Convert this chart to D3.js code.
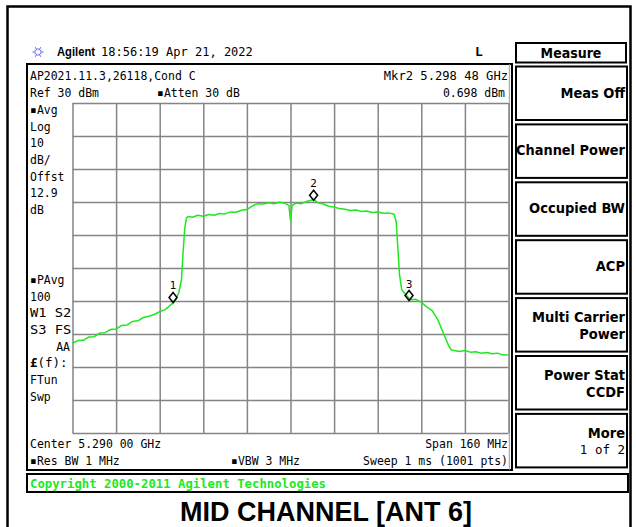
<!DOCTYPE html>
<html>
<head>
<meta charset="utf-8">
<script src="https://cdn.jsdelivr.net/npm/d3@7"></script>
<style>
  body { margin: 0; background: #fff; }
  svg { display: block; }
</style>
</head>
<body>
<div id="grafico"></div>
<script>
// trace: frequency (MHz) and level (dBm)
const freqMHz = [
  5210, 5212, 5214, 5216, 5218, 5220, 5222, 5224, 5226, 5228,
  5230, 5232, 5234, 5236, 5238, 5240, 5242, 5244, 5246, 5247,
  5248, 5249, 5250, 5250.6, 5251.2, 5251.8, 5252.4, 5254, 5256, 5258,
  5260, 5262, 5264, 5266, 5268, 5270, 5272, 5274, 5276, 5278,
  5280, 5282, 5284, 5286, 5288, 5289.4, 5290, 5290.6, 5292, 5294,
  5296, 5298.5, 5300, 5302, 5304, 5306, 5308, 5310, 5312, 5314,
  5316, 5318, 5320, 5322, 5324, 5326, 5328, 5328.8, 5329.4, 5330,
  5330.8, 5332, 5333.2, 5334, 5336, 5338, 5340, 5342, 5344, 5346,
  5348, 5349, 5350, 5352, 5354, 5356, 5358, 5360, 5362, 5364,
  5366, 5368, 5370
];
const levelDbm = [
  -42.8, -42.0, -41.9, -40.9, -40.8, -39.7, -39.6, -38.6, -38.5, -37.4,
  -37.3, -36.2, -36.0, -35.0, -34.6, -34.1, -33.2, -32.6, -31.2, -30.6,
  -29.4, -27.5, -23.5, -15.0, -8.0, -4.8, -4.4, -4.6, -4.0, -4.3,
  -3.8, -4.0, -3.5, -3.6, -3.0, -3.1, -2.5, -2.3, -1.2, -0.5,
  -0.6, -0.2, -0.5, -0.1, -0.4, -1.0, -5.5, -1.0, -0.3, -0.5,
  0.2, 0.7, -0.2, -0.6, -1.3, -1.5, -2.0, -2.2, -2.6, -2.4,
  -2.9, -2.7, -3.2, -3.0, -3.4, -3.3, -3.7, -6.0, -14.0, -22.0,
  -26.5, -27.8, -28.9, -29.6, -29.5, -30.4, -31.8, -32.9, -35.6, -39.5,
  -43.5, -44.8, -45.0, -45.3, -45.0, -45.5, -45.4, -45.8, -45.6, -46.0,
  -45.8, -46.4, -46.3
];
const markerNames = ['1', '2', '3'];
const markerFreq = [5246.9, 5298.48, 5333.5];
const markerLevel = [-30.3, 0.698, -29.7];

const freqTicks = d3.range(5210, 5371, 16);   // 10 divisions, span 160 MHz
const levelTicks = d3.range(-70, 31, 10);     // ref 30 dBm, 10 dB/div

const headerText = ['Agilent', '18:56:19  Apr 21, 2022', 'L'];
const infoTopLeft = ['AP2021.11.3,26118,Cond C', 'Ref 30 dBm'];
const infoAtten = '▪Atten 30 dB';
const infoTopRight = ['Mkr2  5.298 48 GHz', '0.698 dBm'];
const sideUpper = ['▪Avg', 'Log', '10', 'dB/', 'Offst', '12.9', 'dB'];
const sideLower = ['▪PAvg', '100', 'W1  S2', 'S3  FS', 'AA', '£(f):', 'FTun', 'Swp'];
const footLine1 = ['Center 5.290 00 GHz', 'Span 160 MHz'];
const footLine2 = ['▪Res BW 1 MHz', '▪VBW 3 MHz', 'Sweep 1 ms (1001 pts)'];
const menuTitle = 'Measure';
const softkeys = [['Meas Off'], ['Channel Power'], ['Occupied BW'], ['ACP'],
  ['Multi Carrier', 'Power'], ['Power Stat', 'CCDF'], ['More', '1 of 2']];
const copyright = 'Copyright 2000-2011 Agilent Technologies';
const title = 'MID CHANNEL [ANT 6]';

const W = 636, H = 527;
const plot = { left: 72.5, right: 508.5, top: 103, bottom: 433 };
const mono = '"DejaVu Sans Mono", monospace';
const keyFont = '"DejaVu Sans Condensed", "DejaVu Sans", sans-serif';
const charW = 6.9;
const green = '#1ee81e';

const svg = d3.select('#grafico').append('svg')
  .attr('width', W).attr('height', H)
  .attr('viewBox', `0 0 ${W} ${H}`);

function txt(s, x, y, o = {}) {
  const t = svg.append('text')
    .attr('x', x).attr('y', y)
    .attr('font-family', o.family || mono)
    .attr('font-size', o.size || 12.5)
    .attr('font-weight', o.bold ? 'bold' : 'normal')
    .attr('text-anchor', o.anchor || 'start')
    .attr('fill', o.fill || '#000')
    .text(s);
  if (o.fit) {
    t.attr('textLength', s.length * charW).attr('lengthAdjust', 'spacingAndGlyphs');
  }
  if (o.max && t.node().getComputedTextLength() > o.max) {
    t.attr('textLength', o.max).attr('lengthAdjust', 'spacingAndGlyphs');
  }
  return t;
}

// outer frame
svg.append('path')
  .attr('d', `M7.5,${H} V6.5 H630.5 V${H}`)
  .attr('fill', 'none').attr('stroke', '#000').attr('stroke-width', 2.5);

// header with the agilent burst
const star = svg.append('g').attr('transform', 'translate(38,52)');
d3.range(0, 360, 30).forEach(a => {
  const r = a * Math.PI / 180, r0 = a % 60 === 0 ? 2 : 2.5, r1 = a % 60 === 0 ? 5.5 : 4;
  star.append('line')
    .attr('x1', r0 * Math.cos(r)).attr('y1', r0 * Math.sin(r))
    .attr('x2', r1 * Math.cos(r)).attr('y2', r1 * Math.sin(r))
    .attr('stroke', '#5a5af0').attr('stroke-width', 1);
});
txt(headerText[0], 57, 56, { family: '"Liberation Sans", Arial, sans-serif', size: 12.5, bold: true, max: 38 });
txt(headerText[1], 101, 56, { fit: true });
txt(headerText[2], 479, 56, { bold: true, size: 13, anchor: 'middle' });

// main display box
svg.append('rect')
  .attr('x', 27).attr('y', 64).attr('width', 485).attr('height', 406)
  .attr('fill', 'none').attr('stroke', '#000').attr('stroke-width', 2);
svg.append('line')
  .attr('x1', 509.3).attr('x2', 509.3).attr('y1', 64).attr('y2', 470)
  .attr('stroke', '#999').attr('stroke-width', 1);

txt(infoTopLeft[0], 30, 80, { fit: true });
txt(infoTopLeft[1], 30, 97, { fit: true });
txt(infoAtten, 157, 97, { fit: true });
txt(infoTopRight[0], 508, 80, { fit: true, anchor: 'end' });
txt(infoTopRight[1], 505, 97, { fit: true, anchor: 'end' });

sideUpper.forEach((s, i) => txt(s, 30, 114 + i * 16.67, { fit: true }));
sideLower.forEach((s, i) => {
  if (s === 'AA') txt(s, 70, 284 + i * 16.67, { fit: true, anchor: 'end' });
  else if (s.startsWith('£')) {
    const t = txt('', 30, 284 + i * 16.67);
    t.append('tspan').attr('font-weight', 'bold').text('£');
    t.append('tspan').text(s.slice(1));
  } else txt(s, 30, 284 + i * 16.67, { fit: true });
});

txt(footLine1[0], 30, 448, { fit: true });
txt(footLine1[1], 508, 448, { fit: true, anchor: 'end' });
txt(footLine2[0], 30, 465, { fit: true });
txt(footLine2[1], 231, 465, { fit: true });
txt(footLine2[2], 508, 465, { fit: true, anchor: 'end' });

// scales + graticule
const x = d3.scaleLinear().domain([5210, 5370]).range([plot.left, plot.right]);
const y = d3.scaleLinear().domain([-70, 30]).range([plot.bottom, plot.top]);

svg.append('g')
  .attr('transform', `translate(0,${plot.bottom})`)
  .call(d3.axisBottom(x).tickValues(freqTicks).tickSize(-(plot.bottom - plot.top)).tickFormat(''))
  .call(g => g.select('.domain').remove())
  .call(g => g.selectAll('line').attr('stroke', '#858585').attr('stroke-width', 1.5));

svg.append('g')
  .attr('transform', `translate(${plot.left},0)`)
  .call(d3.axisLeft(y).tickValues(levelTicks).tickSize(-(plot.right - plot.left)).tickFormat(''))
  .call(g => g.select('.domain').remove())
  .call(g => g.selectAll('line').attr('stroke', '#858585').attr('stroke-width', 1.5));

// trace
const pts = freqMHz.map((f, i) => [f, levelDbm[i]]);
svg.append('path')
  .datum(pts)
  .attr('fill', 'none')
  .attr('stroke', green)
  .attr('stroke-width', 1.5)
  .attr('stroke-linejoin', 'round')
  .attr('d', d3.line().x(d => x(d[0])).y(d => y(d[1])));

// markers
markerNames.forEach((m, i) => {
  const cx = x(markerFreq[i]), cy = y(markerLevel[i]) - 4.5;
  svg.append('path')
    .attr('d', `M${cx},${cy - 5}L${cx + 4},${cy}L${cx},${cy + 5}L${cx - 4},${cy}Z`)
    .attr('fill', 'none').attr('stroke', '#000').attr('stroke-width', 1.5);
  txt(m, cx, cy - 8, { size: 10.5, anchor: 'middle', family: '"DejaVu Sans", sans-serif' });
});

// softkey panel
svg.append('rect')
  .attr('x', 516).attr('y', 43).attr('width', 110).attr('height', 19.5)
  .attr('fill', 'none').attr('stroke', '#000').attr('stroke-width', 2);
txt(menuTitle, 571, 58, { family: keyFont, size: 14, bold: true, anchor: 'middle' });

softkeys.forEach((lines, i) => {
  const top = 66.5 + i * 57.9;
  svg.append('rect')
    .attr('x', 516).attr('y', top).attr('width', 111).attr('height', 53.5)
    .attr('fill', 'none').attr('stroke', '#000').attr('stroke-width', 2);
  const y0 = lines.length === 1 ? top + 31 : top + 24;
  lines.forEach((s, j) => {
    const small = s === '1 of 2';
    txt(s, 625, y0 + j * 16.5, {
      family: small ? mono : keyFont, size: small ? 12.5 : 14.5,
      bold: !small, anchor: 'end', max: 109
    });
  });
});

// copyright strip
svg.append('rect')
  .attr('x', 27).attr('y', 474).attr('width', 601).attr('height', 18)
  .attr('fill', 'none').attr('stroke', '#000').attr('stroke-width', 2);
txt(copyright, 30, 488, { family: mono, size: 13, bold: true, fill: green })
  .attr('textLength', 296).attr('lengthAdjust', 'spacingAndGlyphs');

txt(title, 326, 521, { family: '"Liberation Sans", Arial, sans-serif', size: 27, bold: true, anchor: 'middle' });
</script>
</body>
</html>
